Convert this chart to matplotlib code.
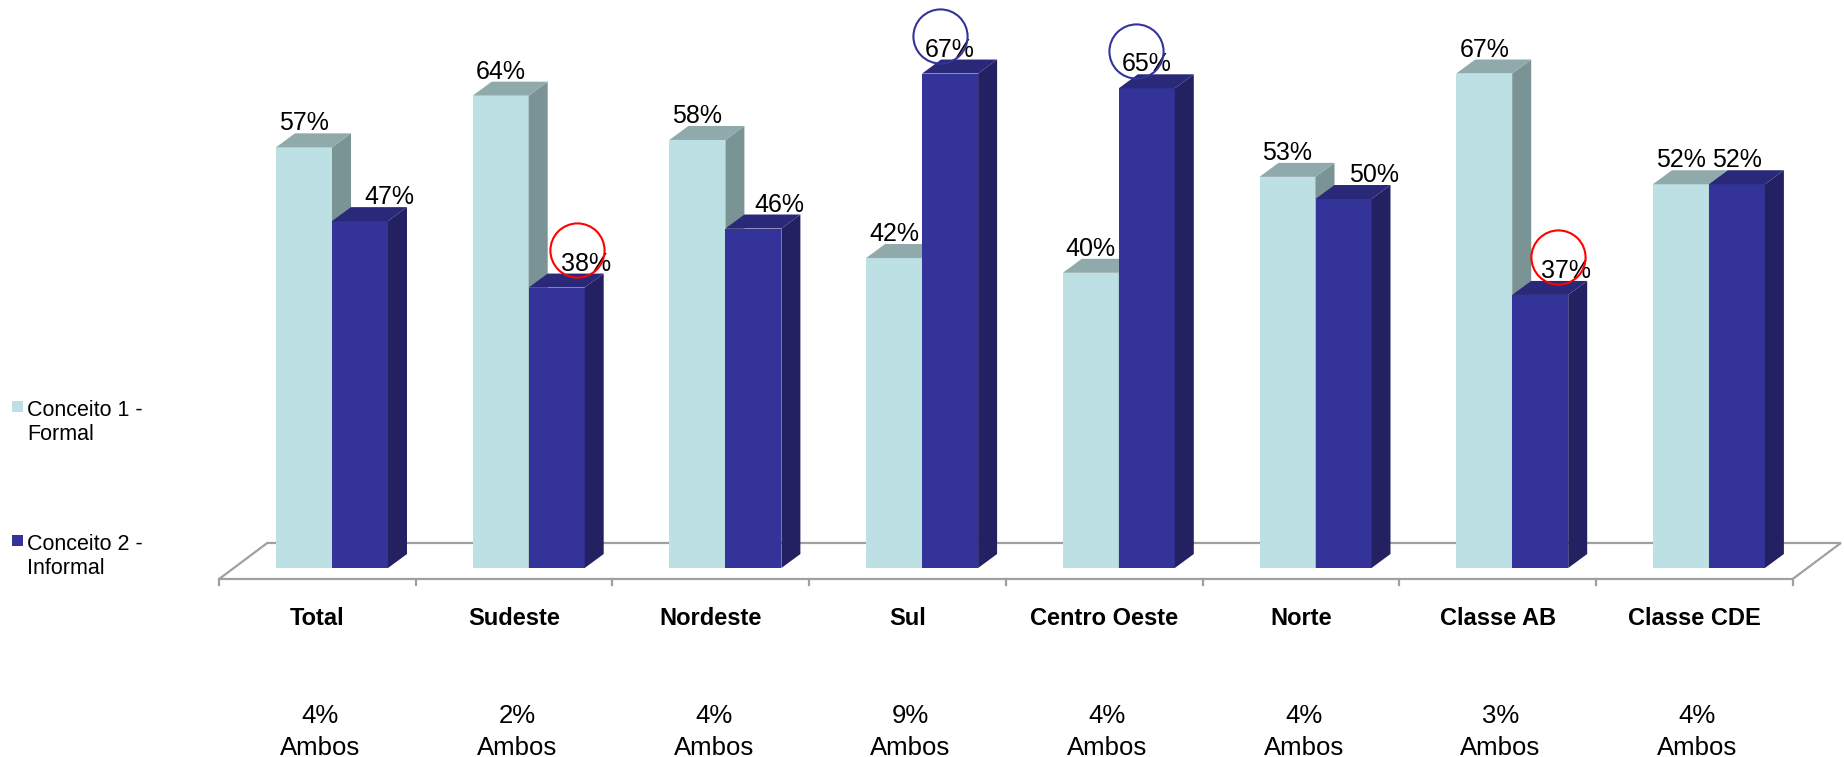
import numpy as np
import matplotlib.pyplot as plt
from matplotlib.patches import Polygon, Rectangle

#%% data
categorias = ['Total', 'Sudeste', 'Nordeste', 'Sul', 'Centro Oeste', 'Norte', 'Classe AB', 'Classe CDE']
formal = [57, 64, 58, 42, 40, 53, 67, 52]
informal = [47, 38, 46, 67, 65, 50, 37, 52]
ambos = [4, 2, 4, 9, 4, 4, 3, 4]
series = ['Conceito 1 -\nFormal', 'Conceito 2 -\nInformal']

# circled "Informal" values: (category index, circle colour, x nudge in px)
destaques = [(1, 'red', 20), (6, 'red', 18), (3, '#333399', -10), (4, '#333399', -11)]
# manual x nudge (px) of the Informal labels, as in the original slide
desloc_inf = [29, 29, 26, 0, 0, 31, 26, 0]

#%% styling
cor_claro = ['#bce0e4', '#7a9394', '#90a9aa']   # front, side, top
cor_escuro = ['#333399', '#232162', '#2a2878']
cor_chao = '#a0a0a0'
FONTE = 'Liberation Sans'

W, H = 1844, 757
PX_X = 196.7   # px per category
PX_Y = 7.38    # px per percent
X0, Y0 = 332, 189  # px position of category 0 / 0% (from left / bottom)

larg = 56 / PX_X
dx, dy = 19 / PX_X, 14 / PX_Y

fig = plt.figure(figsize=(W / 100, H / 100), dpi=100)
ax = fig.add_axes([0, 0, 1, 1])
ax.set_xlim(-X0 / PX_X, (W - X0) / PX_X)
ax.set_ylim(-Y0 / PX_Y, (H - Y0) / PX_Y)
ax.axis('off')

x = np.arange(len(categorias))

#%% floor
fx0, fx1 = -0.574, len(categorias) - 0.574
fy0, fdx, fdy = -1.49, 0.245, 4.88
chao = Polygon([(fx0, fy0), (fx1, fy0), (fx1 + fdx, fy0 + fdy), (fx0 + fdx, fy0 + fdy)],
               closed=True, fill=False, edgecolor=cor_chao, lw=1.6, zorder=1)
ax.add_patch(chao)
for k in range(len(categorias) + 1):
    ax.plot([fx0 + k, fx0 + k], [fy0, fy0 - 0.85], color=cor_chao, lw=1.6, zorder=1)


#%% 3d-ish bars
def barras(xs, vals, cores, z):
    ax.bar(xs, vals, width=larg, color=cores[0], lw=0, zorder=z)
    for xc, v in zip(xs, vals):
        xl, xr = xc - larg / 2, xc + larg / 2
        lado = Polygon([(xr, 0), (xr + dx, dy), (xr + dx, v + dy), (xr, v)],
                       closed=True, facecolor=cores[1], lw=0, zorder=z)
        topo = Polygon([(xl, v), (xl + dx, v + dy), (xr + dx, v + dy), (xr, v)],
                       closed=True, facecolor=cores[2], lw=0, zorder=z)
        ax.add_patch(lado)
        ax.add_patch(topo)


barras(x - larg / 2, formal, cor_claro, 2)
barras(x + larg / 2, informal, cor_escuro, 3)

#%% value labels
for i in range(len(categorias)):
    ax.text(x[i] - larg / 2, formal[i] + 2.3, f'{formal[i]}%', ha='center', va='baseline',
            fontsize=18, family=FONTE, zorder=5)
    ax.text(x[i] + larg / 2 + desloc_inf[i] / PX_X, informal[i] + 2.3, f'{informal[i]}%',
            ha='center', va='baseline', fontsize=18, family=FONTE, zorder=5)

for i, cor, ddx in destaques:
    ax.plot(x[i] + larg / 2 + ddx / PX_X, informal[i] + 5.1, 'o', ms=39, mfc='none',
            mec=cor, mew=1.5, zorder=6)

#%% category labels and "Ambos"
for i, nome in enumerate(categorias):
    ax.text(x[i] - 0.074, -7.72, nome, ha='center', va='baseline', fontsize=17,
            fontweight='bold', family=FONTE)
    ax.text(x[i] - 0.06, -25.34, f'{ambos[i]}%\nAmbos', ha='center', va='baseline',
            fontsize=18.5, family=FONTE, linespacing=1.43)

#%% legend
for (txt, cor, ytop) in [(series[0], cor_claro[0], 401), (series[1], cor_escuro[0], 535)]:
    fig.add_artist(Rectangle((12 / W, 1 - (ytop + 11) / H), 11 / W, 11 / H,
                             transform=fig.transFigure, facecolor=cor, lw=0))
    for j, linha in enumerate(txt.split('\n')):
        fig.text(27 / W, 1 - (ytop + 15 + 24 * j) / H, linha, ha='left', va='baseline',
                 fontsize=15.5, family=FONTE)

fig.savefig('out.png', dpi=100)
